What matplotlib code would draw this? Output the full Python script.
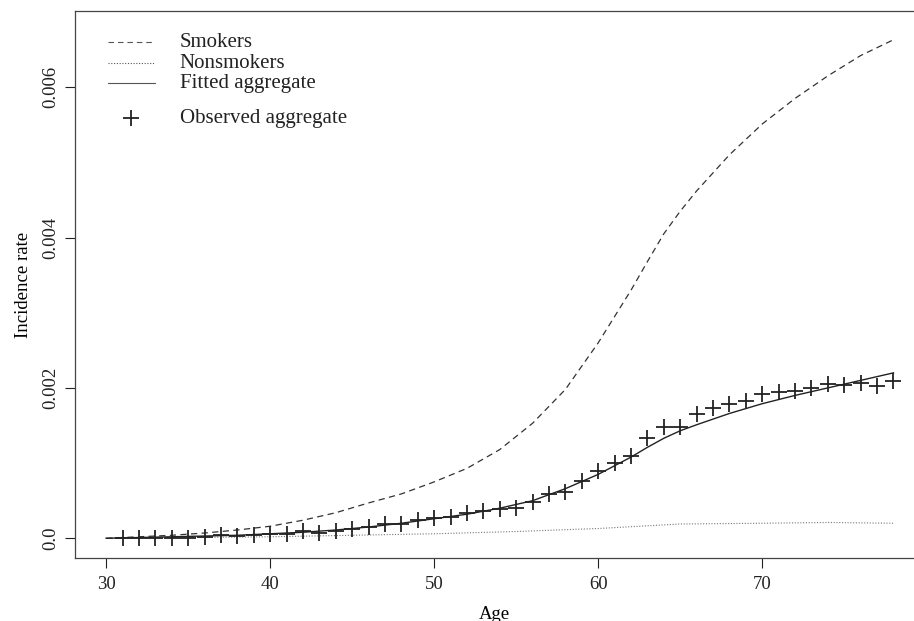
import matplotlib
matplotlib.use("Agg")
import matplotlib.pyplot as plt
from matplotlib.lines import Line2D

# data
obs_age = list(range(31, 79))
obs_rate = [
    0.0, 0.0, 0.0, 0.0, 0.0, 0.000017, 0.00004, 0.00003, 0.00004, 0.000053,
    0.000062, 0.000093, 0.000076, 0.000097, 0.00012, 0.00015, 0.000196, 0.000187,
    0.00024, 0.00027, 0.000284, 0.000342, 0.00036, 0.000396, 0.0004, 0.000484,
    0.000587, 0.00061, 0.000764, 0.000898, 0.000996, 0.0011, 0.00133, 0.00148,
    0.00148, 0.00165, 0.00173, 0.00179, 0.00182, 0.00192, 0.00195, 0.00196,
    0.002, 0.00205, 0.00204, 0.00207, 0.00202, 0.00209,
]

curve_age = [30, 32, 34, 36, 38, 40, 42, 44, 46, 48, 50, 52, 54,
             56, 58, 60, 62, 63, 64, 65, 66, 68, 70, 72, 74, 76, 78]
smokers = [0.0, 0.00002, 0.00004, 0.00007, 0.00011, 0.00016, 0.00024, 0.00034,
           0.00047, 0.00059, 0.00075, 0.00093, 0.00118, 0.00153, 0.00198, 0.0026,
           0.0033, 0.00368, 0.00405, 0.00435, 0.00462, 0.0051, 0.00551, 0.00585,
           0.00615, 0.00642, 0.00663]
fitted = [0.0, 0.00001, 0.00002, 0.00003, 0.00004, 0.00006, 0.00008, 0.00011,
          0.00015, 0.0002, 0.00026, 0.00032, 0.0004, 0.0005, 0.00066, 0.00085,
          0.00108, 0.00121, 0.00133, 0.00143, 0.00151, 0.00166, 0.00179, 0.0019,
          0.002, 0.0021, 0.0022]

nonsmoker_age = [30, 35, 40, 45, 50, 55, 60, 65, 70, 74, 78]
nonsmokers = [0.0, 0.00001, 0.00002, 0.00004, 0.00006, 0.00009, 0.00013,
              0.00019, 0.0002, 0.00021, 0.0002]

x_ticks = [30, 40, 50, 60, 70]
y_ticks = [0.0, 0.002, 0.004, 0.006]
y_tick_labels = ["0.0", "0.002", "0.004", "0.006"]

plt.rcParams["font.family"] = ["Liberation Serif", "DejaVu Serif"]
plt.rcParams["font.size"] = 13.5

fig = plt.figure(figsize=(9.14, 6.21), dpi=100)
ax = fig.add_axes([0.082, 0.101, 0.918, 0.881])

dash = (0, (5, 3.5))
dot = (0, (1, 1.5))
ax.plot(curve_age, smokers, color="#333333", linewidth=0.9, linestyle=dash)
ax.plot(nonsmoker_age, nonsmokers, color="#777777", linewidth=0.8, linestyle=dot)
ax.plot(curve_age, fitted, color="#222222", linewidth=1.0)
ax.plot(obs_age, obs_rate, linestyle="none", marker="+", markersize=11,
        markeredgewidth=1.3, color="#222222")

ax.set_xlim(28.1, 79.25)
ax.set_ylim(-0.000266, 0.00701)
ax.set_xticks(x_ticks)
ax.set_yticks(y_ticks)
ax.set_yticklabels(y_tick_labels, rotation=90, va="center")
ax.tick_params(direction="out", length=7, width=0.8, colors="#222222")
ax.tick_params(axis="x", pad=6)
ax.tick_params(axis="y", pad=4)
for s in ax.spines.values():
    s.set_linewidth(0.9)
    s.set_color("#444444")
ax.spines["right"].set_visible(False)

ax.set_xlabel("Age", labelpad=9)
ax.set_ylabel("Incidence rate", labelpad=8)

# legend drawn by hand (extra gap before the last entry)
rows = [0.943, 0.905, 0.868, 0.804]
names = ["Smokers", "Nonsmokers", "Fitted aggregate", "Observed aggregate"]
styles = [dash, dot, "-"]
for y, name in zip(rows, names):
    ax.text(0.125, y, name, transform=ax.transAxes, va="center", ha="left",
            fontsize=15, color="#222222")
for y, ls in zip(rows[:3], styles):
    ax.add_line(Line2D([0.039, 0.095], [y, y], transform=ax.transAxes,
                       color="#555555", linewidth=0.8, linestyle=ls))
ax.plot([0.067], [rows[3]], transform=ax.transAxes, marker="+", markersize=11,
        markeredgewidth=1.3, color="#222222", linestyle="none")

fig.savefig("out.png", dpi=100)
